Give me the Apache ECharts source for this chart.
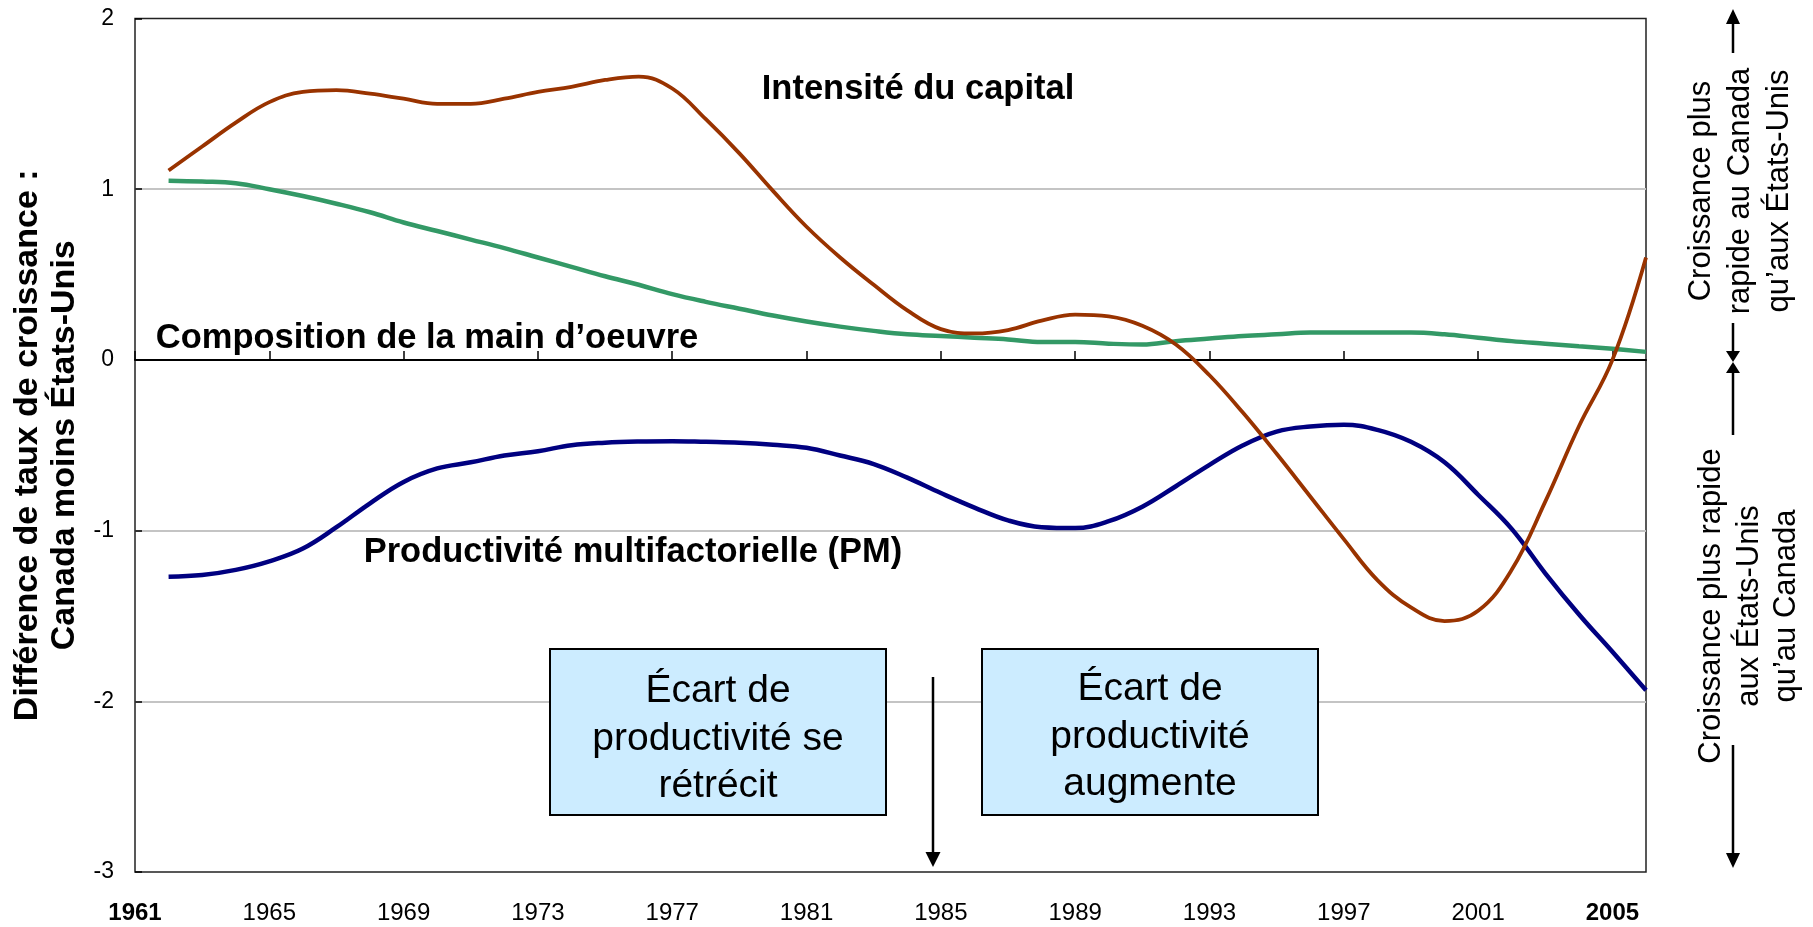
<!DOCTYPE html>
<html>
<head>
<meta charset="utf-8">
<title>Écart de productivité Canada – États-Unis</title>
<script src="https://cdn.jsdelivr.net/npm/echarts@6/dist/echarts.min.js"></script>
<style>
  html, body { margin: 0; padding: 0; background: #fff; }
  #chart { width: 1813px; height: 927px; }
</style>
</head>
<body>
<div id="chart"></div>
<script>
// catégories de l'axe horizontal (une par année)
const years = [
  '1961', '1962', '1963', '1964', '1965', '1966', '1967', '1968', '1969', '1970',
  '1971', '1972', '1973', '1974', '1975', '1976', '1977', '1978', '1979', '1980',
  '1981', '1982', '1983', '1984', '1985', '1986', '1987', '1988', '1989', '1990',
  '1991', '1992', '1993', '1994', '1995', '1996', '1997', '1998', '1999', '2000',
  '2001', '2002', '2003', '2004', '2005', '2006'
];
// années des observations (les courbes commencent une année après l'origine)
const obsYears = years.slice(1);

// Intensité du capital
const capital = [
  1.11, 1.25, 1.39, 1.51, 1.57, 1.58, 1.56, 1.53, 1.50, 1.50,
  1.53, 1.57, 1.60, 1.64, 1.66, 1.59, 1.41, 1.21, 0.99, 0.78,
  0.60, 0.44, 0.29, 0.18, 0.155, 0.175, 0.23, 0.265, 0.255, 0.20,
  0.09, -0.09, -0.31, -0.55, -0.80, -1.05, -1.29, -1.45, -1.53, -1.47,
  -1.23, -0.83, -0.39, 0.0, 0.60
];
// Composition de la main d'oeuvre
const labour = [
  1.05, 1.045, 1.035, 1.0, 0.96, 0.915, 0.865, 0.805, 0.755, 0.705,
  0.655, 0.60, 0.545, 0.49, 0.44, 0.385, 0.34, 0.30, 0.26, 0.225,
  0.195, 0.17, 0.15, 0.14, 0.13, 0.12, 0.105, 0.105, 0.095, 0.09,
  0.11, 0.125, 0.14, 0.15, 0.16, 0.16, 0.16, 0.16, 0.15, 0.13,
  0.11, 0.095, 0.08, 0.065, 0.047
];
// Productivité multifactorielle (PM)
const mfp = [
  -1.27, -1.26, -1.23, -1.18, -1.105, -0.98, -0.84, -0.715, -0.636, -0.60,
  -0.56, -0.535, -0.50, -0.485, -0.478, -0.476, -0.48, -0.485, -0.497, -0.515,
  -0.56, -0.61, -0.69, -0.78, -0.865, -0.94, -0.98, -0.985, -0.945, -0.86,
  -0.74, -0.615, -0.50, -0.42, -0.39, -0.38, -0.41, -0.48, -0.60, -0.79,
  -0.99, -1.25, -1.49, -1.71, -1.935
];
const boldYears = ['1961', '2005'];

const FONT = "'Liberation Sans', Arial, sans-serif";

function pairs(values) {
  return values.map((v, i) => [obsYears[i], v]);
}

function lineSeries(name, values, color, width) {
  return {
    name: name,
    type: 'line',
    xAxisIndex: 0,
    data: pairs(values),
    smooth: 0.4,
    symbol: 'none',
    lineStyle: { color: color, width: width },
    emphasis: { disabled: true }
  };
}

function txt(x, y, text, size, extra) {
  return {
    type: 'text', x: x, y: y, silent: true, z: 10,
    rotation: (extra && extra.rotation) || 0,
    style: Object.assign({
      text: text, fill: '#000', fontFamily: FONT, fontSize: size,
      align: 'center', verticalAlign: 'middle'
    }, (extra && extra.style) || {})
  };
}

function vline(x, y1, y2) {
  return {
    type: 'line', silent: true, z: 10,
    shape: { x1: x, y1: y1, x2: x, y2: y2 },
    style: { stroke: '#000', lineWidth: 2.5 }
  };
}

function tri(points) {
  return { type: 'polygon', silent: true, z: 10, shape: { points: points }, style: { fill: '#000' } };
}

const chart = echarts.init(document.getElementById('chart'));

chart.setOption({
  animation: false,
  backgroundColor: '#fff',
  textStyle: { fontFamily: FONT },
  grid: {
    left: 135, right: 167, top: 18.5, bottom: 55,
    show: true, borderColor: '#222', borderWidth: 1.5, backgroundColor: 'transparent'
  },
  xAxis: [
    {
      type: 'category',
      data: years,
      boundaryGap: false,
      position: 'bottom',
      axisLine: { show: false, onZero: false },
      axisTick: { show: false },
      splitLine: { show: false },
      axisLabel: {
        interval: 3,
        margin: 29,
        fontSize: 24,
        color: '#000',
        formatter: v => boldYears.includes(v) ? '{b|' + v + '}' : v,
        rich: { b: { fontWeight: 'bold', fontSize: 24, color: '#000', fontFamily: FONT } }
      }
    },
    {
      // ligne du zéro avec ses graduations
      type: 'category',
      data: years,
      boundaryGap: false,
      position: 'bottom',
      axisLine: { show: true, onZero: true, lineStyle: { color: '#000', width: 2 } },
      axisTick: { show: true, inside: true, interval: 3, length: 9, lineStyle: { color: '#000', width: 1.5 } },
      axisLabel: { show: false },
      splitLine: { show: false }
    }
  ],
  yAxis: {
    type: 'value',
    min: -3,
    max: 2,
    interval: 1,
    axisLine: { show: false },
    axisTick: { show: true, inside: true, length: 7, lineStyle: { color: '#000', width: 1.5 } },
    axisLabel: { fontSize: 23, margin: 21, color: '#000' },
    splitLine: { show: true, showMinLine: false, showMaxLine: false, lineStyle: { color: '#c4c4c4', width: 2 } },
    name: 'Différence de taux de croissance :\nCanada moins États-Unis',
    nameLocation: 'middle',
    nameRotate: 90,
    nameGap: 51,
    nameTextStyle: { fontSize: 34, fontWeight: 'bold', color: '#000', lineHeight: 37, fontFamily: FONT }
  },
  series: [
    lineSeries('Productivité multifactorielle (PM)', mfp, '#000080', 4.5),
    lineSeries("Composition de la main d'oeuvre", labour, '#339966', 4.5),
    lineSeries('Intensité du capital', capital, '#993300', 3.8)
  ],
  graphic: [
    // libellés des courbes
    txt(918, 89, 'Intensité du capital', 34.5, { style: { fontWeight: 'bold' } }),
    txt(427, 338, 'Composition de la main d’oeuvre', 34.5, { style: { fontWeight: 'bold' } }),
    txt(633, 552, 'Productivité multifactorielle (PM)', 34.5, { style: { fontWeight: 'bold' } }),

    // encadrés
    {
      type: 'rect', silent: true, z: 9,
      shape: { x: 550, y: 649, width: 336, height: 166 },
      style: { fill: '#CCECFF', stroke: '#000', lineWidth: 2 }
    },
    txt(718, 739, 'Écart de\nproductivité se\nrétrécit', 39, { style: { lineHeight: 47.5 } }),
    {
      type: 'rect', silent: true, z: 9,
      shape: { x: 982, y: 649, width: 336, height: 166 },
      style: { fill: '#CCECFF', stroke: '#000', lineWidth: 2 }
    },
    txt(1150, 737, 'Écart de\nproductivité\naugmente', 39, { style: { lineHeight: 47.5 } }),

    // flèche de 1985
    vline(933, 677, 853),
    tri([[925.5, 852], [940.5, 852], [933, 867]]),

    // annotations de droite
    vline(1733, 23, 53),
    vline(1733, 323, 352),
    tri([[1733, 9], [1726, 24], [1740, 24]]),
    tri([[1726, 351], [1740, 351], [1733, 362]]),
    tri([[1733, 362], [1726, 373], [1740, 373]]),
    vline(1733, 372, 435),
    vline(1733, 745, 854),
    tri([[1726, 853], [1740, 853], [1733, 868]]),

    txt(1701, 191, 'Croissance plus', 31, { rotation: Math.PI / 2 }),
    txt(1740, 191, 'rapide au Canada', 31, { rotation: Math.PI / 2 }),
    txt(1779, 191, 'qu’aux États-Unis', 31, { rotation: Math.PI / 2 }),
    txt(1711, 606, 'Croissance plus rapide', 31, { rotation: Math.PI / 2 }),
    txt(1749, 606, 'aux États-Unis', 31, { rotation: Math.PI / 2 }),
    txt(1786, 606, 'qu’au Canada', 31, { rotation: Math.PI / 2 })
  ]
});
</script>
</body>
</html>
